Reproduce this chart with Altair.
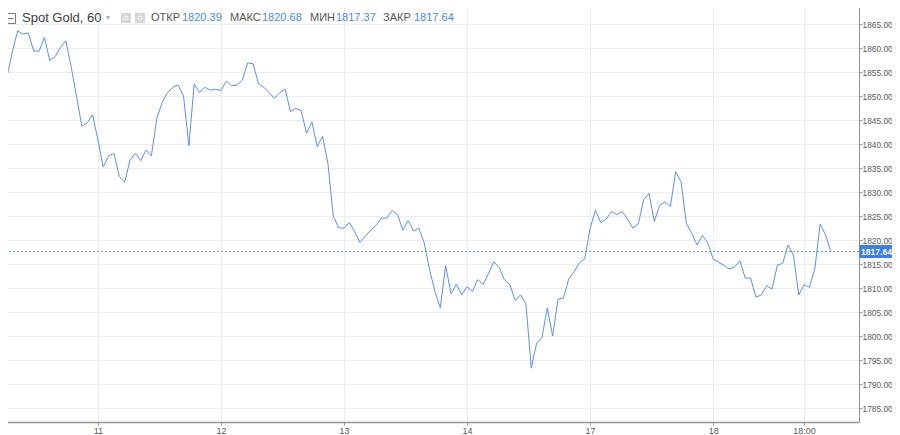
import altair as alt
import pandas as pd

# ---- data (hourly closes, bar index 0..155) ----
close = [
    1854.0, 1854.1, 1859.3, 1863.7, 1863.0, 1863.2, 1859.5, 1859.4, 1862.3, 1857.5,
    1858.3, 1860.2, 1861.6, 1856.2, 1850.0, 1843.8, 1844.5, 1846.2, 1840.9, 1835.3,
    1837.6, 1838.1, 1833.3, 1832.1, 1836.7, 1838.1, 1836.6, 1838.8, 1837.6, 1845.4,
    1848.7, 1850.8, 1851.9, 1852.4, 1850.1, 1839.7, 1852.6, 1850.8, 1851.9, 1851.3,
    1851.5, 1851.2, 1853.2, 1852.2, 1852.4, 1853.4, 1857.0, 1856.8, 1852.7, 1851.9,
    1850.8, 1849.6, 1850.8, 1851.5, 1846.8, 1847.5, 1847.0, 1842.3, 1844.7, 1839.5,
    1841.7, 1836.0, 1825.0, 1822.6, 1822.5, 1823.7, 1821.8, 1819.5, 1820.9, 1822.1,
    1823.1, 1824.6, 1824.6, 1826.2, 1825.4, 1822.1, 1824.1, 1821.9, 1822.5, 1819.4,
    1813.8, 1809.3, 1805.9, 1814.7, 1808.8, 1810.8, 1808.6, 1810.3, 1809.3, 1811.8,
    1810.8, 1813.0, 1815.5, 1814.3, 1811.7, 1810.7, 1807.4, 1808.6, 1806.8, 1793.3,
    1798.5, 1799.7, 1805.9, 1800.0, 1807.7, 1807.9, 1811.9, 1813.4, 1815.3, 1816.1,
    1822.5, 1826.2, 1823.7, 1824.4, 1826.0, 1825.3, 1826.0, 1824.4, 1822.5, 1823.4,
    1828.4, 1829.8, 1823.9, 1827.3, 1828.0, 1827.0, 1834.3, 1832.2, 1823.5, 1821.4,
    1819.0, 1821.0, 1819.4, 1816.1, 1815.4, 1814.8, 1814.0, 1814.4, 1815.7, 1812.1,
    1812.1, 1808.1, 1808.6, 1810.5, 1809.8, 1814.8, 1815.2, 1819.0, 1816.9, 1808.6,
    1810.7, 1810.2, 1814.0, 1823.4, 1821.1, 1817.64,
]
day_ticks = [18, 41, 64, 87, 110, 133, 150]
day_labels = ["11", "12", "13", "14", "17", "18", "18:00"]
price_ticks = list(range(1785, 1870, 5))
title_text = "Spot Gold, 60"
stat_names = ["ОТКР", "МАКС", "МИН", "ЗАКР"]
stat_values = ["1820.39", "1820.68", "1817.37", "1817.64"]
last_price = 1817.64

# ---- layout / style ----
W, H = 856, 419
LINE = "#5d8fe6"
BLUE_BOX = "#3d7fe0"
GRID = "#e6edf4"
AXIS = "#939393"
LABEL = "#5a5a5a"
FONT = "Liberation Sans"

df = pd.DataFrame({"bar": list(range(len(close))), "price": close})

label_expr = "".join(
    f"datum.value == {t} ? '{l}' : " for t, l in zip(day_ticks, day_labels)
) + "''"

x_scale = alt.Scale(domain=[0.26, 160.26], nice=False, zero=False)
y_scale = alt.Scale(domain=[1782.08, 1869.48], nice=False, zero=False)


def y_axis():
    return alt.Axis(
        orient="right", values=price_ticks, format=".2f", title=None,
        grid=True, gridColor=GRID, domainColor=AXIS, tickColor=AXIS,
        tickSize=3, labelFont=FONT, labelFontSize=8.4, labelColor=LABEL,
        labelPadding=0, labelOverlap=False, labelFlush=False,
    )


line = alt.Chart(df).mark_line(color=LINE, strokeWidth=1, clip=True).encode(
    x=alt.X(
        "bar:Q", scale=x_scale,
        axis=alt.Axis(
            values=day_ticks, labelExpr=label_expr, title=None, grid=True,
            gridColor=GRID, domainColor=AXIS, domainWidth=1.5, tickColor=AXIS,
            tickSize=3, labelFont=FONT, labelFontSize=9, labelColor=LABEL,
            labelPadding=1, labelFlush=False, labelOverlap=False,
        ),
    ),
    y=alt.Y("price:Q", scale=y_scale, axis=y_axis()),
)

last_df = pd.DataFrame({"p": [last_price], "lo": [last_price - 1.36],
                        "hi": [last_price + 1.36], "t": [f"{last_price:.2f}"]})

rule = alt.Chart(last_df).mark_rule(color="#6f9ce9", strokeDash=[2, 2], strokeWidth=1).encode(
    y=alt.Y("p:Q", scale=y_scale, axis=y_axis())
)

box = alt.Chart(last_df).mark_rect(color=BLUE_BOX, clip=False).encode(
    x=alt.value(W + 0.5), x2=alt.value(W + 34),
    y=alt.Y("lo:Q", scale=y_scale, axis=y_axis()), y2="hi:Q",
)
box_text = alt.Chart(last_df).mark_text(
    color="white", fontWeight="bold", font=FONT, fontSize=8.6,
    align="left", baseline="middle", clip=False,
).encode(x=alt.value(W + 2), y=alt.Y("p:Q", scale=y_scale, axis=y_axis()), text="t:N")

# ---- header ----
HY = 15
one = pd.DataFrame({"k": [0]})
header_layers = []
header_layers.append(
    alt.Chart(one).mark_rect(fill="white", stroke="#7a7a7a", strokeWidth=1).encode(
        x=alt.value(2.5), x2=alt.value(12.5), y=alt.value(10.5), y2=alt.value(20.5))
)
header_layers.append(
    alt.Chart(one).mark_rule(color="#7a7a7a", strokeWidth=1).encode(
        x=alt.value(4.5), x2=alt.value(10.5), y=alt.value(15.5))
)
header_layers.append(
    alt.Chart(pd.DataFrame({"t": [title_text]})).mark_text(
        font=FONT, fontSize=13, color="#3c3c3c", align="left", baseline="middle"
    ).encode(x=alt.value(19), y=alt.value(HY), text="t:N")
)
header_layers.append(
    alt.Chart(pd.DataFrame({"t": ["▾"]})).mark_text(
        font=FONT, fontSize=8, color="#b0b0b0", align="left", baseline="middle"
    ).encode(x=alt.value(103), y=alt.value(HY), text="t:N")
)
for gx in (118, 132):
    header_layers.append(
        alt.Chart(one).mark_rect(fill="#d6d6d6").encode(
            x=alt.value(gx), x2=alt.value(gx + 10), y=alt.value(10), y2=alt.value(20))
    )
    header_layers.append(
        alt.Chart(one).mark_point(shape="circle", filled=False, color="white",
                                  size=14, strokeWidth=1.2).encode(
            x=alt.value(gx + 5), y=alt.value(15))
    )

name_x = [148, 227, 307, 380]
value_x = [179, 259, 333, 411]
for nm, vx, nx, vv in zip(stat_names, value_x, name_x, stat_values):
    header_layers.append(
        alt.Chart(pd.DataFrame({"t": [nm]})).mark_text(
            font=FONT, fontSize=11, color="#555555", align="left", baseline="middle"
        ).encode(x=alt.value(nx), y=alt.value(HY), text="t:N")
    )
    header_layers.append(
        alt.Chart(pd.DataFrame({"t": [vv]})).mark_text(
            font=FONT, fontSize=11, color="#4a88e0", align="left", baseline="middle"
        ).encode(x=alt.value(vx), y=alt.value(HY), text="t:N")
    )

chart = alt.layer(line, rule, box, box_text, *header_layers).resolve_scale(
    x="shared", y="shared"
).properties(
    width=W, height=H,
    autosize=alt.AutoSizeParams(type="none"),
    padding={"left": -5, "top": -5, "right": 33, "bottom": 13},
    background="white",
).configure_view(stroke=None)

chart.save("out.html", embed_options={"renderer": "svg", "actions": False})
